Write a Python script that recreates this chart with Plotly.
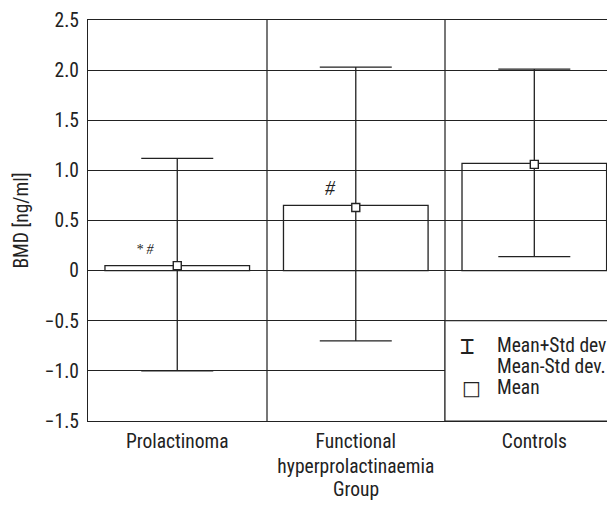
import plotly.graph_objects as go

categories = ["Prolactinoma", "Functional<br>hyperprolactinaemia", "Controls"]
bar_values = [0.05, 0.65, 1.07]
mean_values = [0.05, 0.63, 1.06]
upper_values = [1.12, 2.03, 2.01]   # Mean + Std dev
lower_values = [-1.00, -0.70, 0.14]  # Mean - Std dev
y_tick_vals = [-1.5, -1.0, -0.5, 0, 0.5, 1.0, 1.5, 2.0, 2.5]
y_tick_text = ["\u22121.5", "\u22121.0", "\u22120.5", "0", "0.5", "1.0", "1.5", "2.0", "2.5"]
marks_text = ["*\u00a0#", "#"]
marks_x = [-0.18, 0.86]
marks_y = [0.21, 0.82]
marks_size = [14, 20]

FONT = "Roboto Condensed, Liberation Sans Narrow, DejaVu Sans Condensed, sans-serif"
FS = 19.5
xpos = list(range(len(categories)))

fig = go.Figure()
fig.add_trace(go.Bar(
    x=xpos, y=bar_values, width=0.81,
    marker=dict(color="rgba(0,0,0,0)", line=dict(color="#222", width=1.3)),
    showlegend=False, hoverinfo="skip",
))
fig.add_trace(go.Scatter(
    x=xpos, y=mean_values, mode="markers",
    marker=dict(symbol="square", size=8, color="white", line=dict(color="#222", width=1.4)),
    error_y=dict(type="data", symmetric=False,
                 array=[u - m for u, m in zip(upper_values, mean_values)],
                 arrayminus=[m - l for m, l in zip(mean_values, lower_values)],
                 color="#222", thickness=1.3, width=36),
    showlegend=False,
))

# legend box
fig.add_shape(type="rect", xref="x", yref="y", x0=1.5, x1=2.6, y0=-1.5, y1=-0.5,
              fillcolor="white", line=dict(color="#222", width=1), layer="between")

fig.add_annotation(x=1.575, y=-0.75, xref="x", yref="y", text="\u2336", showarrow=False,
                   xanchor="left", font=dict(family="DejaVu Sans Mono, DejaVu Sans", size=24, color="#222"))
fig.add_annotation(x=1.585, y=-1.17, xref="x", yref="y", text="\u25a1", showarrow=False,
                   xanchor="left", font=dict(family="DejaVu Sans, Noto Sans", size=20, color="#222"))
fig.add_annotation(x=1.78, y=-0.75, xref="x", yref="y", text="Mean+Std dev", showarrow=False,
                   xanchor="left", font=dict(family=FONT, size=FS, color="#222"))
fig.add_annotation(x=1.78, y=-0.96, xref="x", yref="y", text="Mean-Std dev.", showarrow=False,
                   xanchor="left", font=dict(family=FONT, size=FS, color="#222"))
fig.add_annotation(x=1.78, y=-1.17, xref="x", yref="y", text="Mean", showarrow=False,
                   xanchor="left", font=dict(family=FONT, size=FS, color="#222"))

for t, x, y, s in zip(marks_text, marks_x, marks_y, marks_size):
    fig.add_annotation(x=x, y=y, xref="x", yref="y", text=t, showarrow=False,
                       font=dict(family="Liberation Serif, serif", size=s, style="italic", color="#222"))

fig.add_annotation(x=1, y=-0.17, xref="x", yref="paper", text="Group", showarrow=False,
                   yanchor="middle", font=dict(family=FONT, size=FS, color="#222"))

fig.update_layout(
    width=607, height=492,
    margin=dict(l=80, r=0, t=12, b=79),
    paper_bgcolor="white", plot_bgcolor="white",
    font=dict(family=FONT, size=FS, color="#222"),
    barmode="overlay",
    xaxis=dict(
        range=[-0.5, 2.452], tickvals=xpos, ticktext=categories,
        showgrid=False, zeroline=False,
        showline=True, mirror=True, linecolor="#222", linewidth=1.3,
        ticks="", ticklabelstandoff=2,
        minor=dict(tickvals=[0.5, 1.5], showgrid=True, gridcolor="#777", gridwidth=1.5, ticks=""),
    ),
    yaxis=dict(
        range=[-1.5, 2.5], tickvals=y_tick_vals, ticktext=y_tick_text,
        showgrid=True, gridcolor="#222", gridwidth=1, zeroline=False,
        showline=True, linecolor="#222", linewidth=1.3, ticks="", ticklabelstandoff=4,
        title=dict(text="BMD [ng/ml]", standoff=10, font=dict(size=FS)),
    ),
)
fig.write_html("out.html")
